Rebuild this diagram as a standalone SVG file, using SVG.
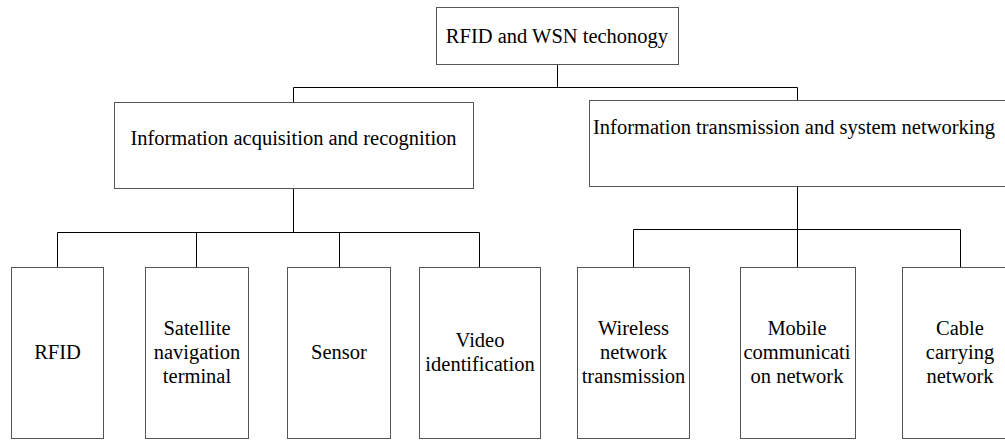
<svg xmlns="http://www.w3.org/2000/svg" width="1005" height="440" viewBox="0 0 1005 440">
<style>
.box{fill:#fff;stroke:#555;stroke-width:1}
.conn{fill:none;stroke:#000;stroke-width:1}
text{font-family:"Liberation Serif","Times New Roman","DejaVu Serif",serif;font-size:20.5px;fill:#000;text-anchor:middle}
.st{text-anchor:start}
</style>
<rect width="1005" height="440" fill="#fff"/>
<g id="connectors">
<path class="conn" d="M557.5 64.5 V87.5 M293.5 102.5 V87.5 H797.5 V100.5"/>
<path class="conn" d="M293.5 188.5 V232.5 M57.5 267.5 V232.5 H479.5 V267.5 M196.5 232.5 V267.5 M339.5 232.5 V267.5"/>
<path class="conn" d="M797.5 186.5 V229.5 M633.5 267.5 V229.5 H960.5 V267.5 M797.5 229.5 V267.5"/>
</g>
<g id="root"><rect class="box" x="436.5" y="7.5" width="242" height="57"/><text x="557" y="43">RFID and WSN techonogy</text></g>
<g id="acq"><rect class="box" x="114.5" y="102.5" width="359" height="86"/><text x="293.5" y="145">Information acquisition and recognition</text></g>
<g id="trans"><rect class="box" x="589.5" y="100.5" width="430" height="86"/><text class="st" x="593" y="134">Information transmission and system networking</text></g>
<g id="rfid"><rect class="box" x="11.5" y="267.5" width="92" height="171"/><text x="57.5" y="359">RFID</text></g>
<g id="satellite"><rect class="box" x="145.5" y="267.5" width="103" height="171"/><text x="197" y="335">Satellite</text><text x="197" y="359">navigation</text><text x="197" y="383">terminal</text></g>
<g id="sensor"><rect class="box" x="287.5" y="267.5" width="103" height="171"/><text x="339" y="359">Sensor</text></g>
<g id="video"><rect class="box" x="419.5" y="267.5" width="121" height="171"/><text x="480" y="347">Video</text><text x="480" y="371">identification</text></g>
<g id="wireless"><rect class="box" x="577.5" y="267.5" width="112" height="171"/><text x="633.5" y="335">Wireless</text><text x="633.5" y="359">network</text><text x="633.5" y="383">transmission</text></g>
<g id="mobile"><rect class="box" x="740.5" y="267.5" width="115" height="171"/><text x="797" y="335">Mobile</text><text x="797" y="359">communicati</text><text x="797" y="383">on network</text></g>
<g id="cable"><rect class="box" x="902.5" y="267.5" width="116" height="171"/><text x="960" y="335">Cable</text><text x="960" y="359">carrying</text><text x="960" y="383">network</text></g>
</svg>
